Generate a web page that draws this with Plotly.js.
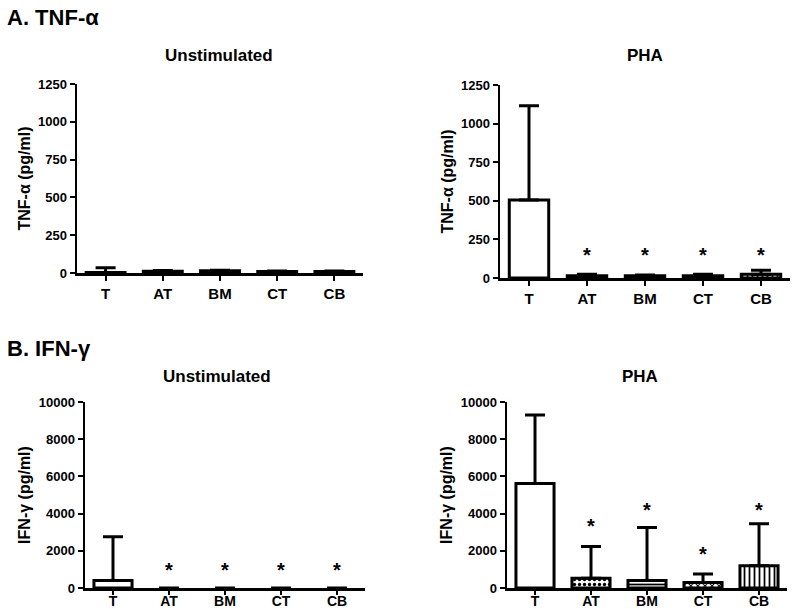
<!DOCTYPE html>
<html>
<head>
<meta charset="utf-8">
<script src="https://cdn.plot.ly/plotly-3.0.1.min.js"></script>
<style>html,body{margin:0;padding:0;background:#fff}#chart{width:800px;height:609px}</style>
</head>
<body>
<div id="chart"></div>
<script>
// ---- data ----
const groups = ["T", "AT", "BM", "CT", "CB"];

const tnfUnstimMean = [4, 12, 15, 10, 10];
const tnfUnstimErr  = [30, 4, 3, 4, 4];

const tnfPhaMean = [505, 15, 15, 15, 25];
const tnfPhaErr  = [610, 10, 5, 10, 25];
const tnfPhaStarY = [null, 135, 135, 135, 135];

const ifnUnstimMean = [400, 0, 0, 0, 0];
const ifnUnstimErr  = [2350, NaN, NaN, NaN, NaN];
const ifnUnstimStarY = [null, 850, 850, 850, 850];

const ifnPhaMean = [5620, 530, 400, 290, 1200];
const ifnPhaErr  = [3680, 1700, 2850, 460, 2250];
const ifnPhaStarY = [null, 3220, 4070, 1720, 4070];

const tnfTicks = [0, 250, 500, 750, 1000, 1250];
const ifnTicks = [0, 2000, 4000, 6000, 8000, 10000];

const patternShapes = ["", ".", "-", "x", "|"];

// ---- styling ----
const FONT = "Liberation Sans, Arial, Helvetica, sans-serif";

function barTrace(mean, err, xa, ya) {
  return {
    type: "bar", x: groups, y: mean, xaxis: xa, yaxis: ya,
    width: 0.68,
    marker: {
      color: "white",
      line: {color: "black", width: mean.map(v => (v > 0 ? 3 : 0))},
      pattern: {shape: patternShapes, fgcolor: "black", bgcolor: "white", size: 5, solidity: 0.35}
    },
    error_y: {type: "data", array: err, arrayminus: groups.map(() => 0), symmetric: false,
              color: "black", thickness: 3, width: 10},
    showlegend: false, hoverinfo: "skip"
  };
}
function starTrace(ys, xa, ya) {
  return {
    type: "scatter", mode: "text", x: groups, y: ys, text: ys.map(v => v === null ? "" : "*"),
    xaxis: xa, yaxis: ya, cliponaxis: false,
    textfont: {family: FONT, size: 20, color: "black", weight: "bold"},
    showlegend: false, hoverinfo: "skip"
  };
}

const data = [
  barTrace(tnfUnstimMean, tnfUnstimErr, "x", "y"),
  barTrace(tnfPhaMean, tnfPhaErr, "x2", "y2"),
  starTrace(tnfPhaStarY, "x2", "y2"),
  barTrace(ifnUnstimMean, ifnUnstimErr, "x3", "y3"),
  starTrace(ifnUnstimStarY, "x3", "y3"),
  barTrace(ifnPhaMean, ifnPhaErr, "x4", "y4"),
  starTrace(ifnPhaStarY, "x4", "y4")
];

function px(v) { return v / 800; }
function py(v) { return 1 - v / 609; }

function xAxis(d0, d1, anchor, lift, fs, tl) {
  return {
    domain: [px(d0), px(d1)], anchor: anchor, type: "category",
    range: [-0.5, 4.5], showline: true, linecolor: "black", linewidth: 2.5,
    ticks: "outside", ticklen: tl, tickwidth: 2, tickcolor: "black",
    ticklabelstandoff: lift,
    showgrid: false, zeroline: false, fixedrange: true,
    tickfont: {family: FONT, size: fs, color: "black", weight: "bold"}
  };
}
function yAxis(d0, d1, anchor, ticks, title) {
  return {
    domain: [py(d1), py(d0)], anchor: anchor,
    range: [0, ticks[ticks.length - 1]], tickmode: "array", tickvals: ticks,
    ticktext: ticks.map(String),
    showline: true, linecolor: "black", linewidth: 2.5,
    ticks: "outside", ticklen: 5, tickwidth: 2, tickcolor: "black",
    showgrid: false, zeroline: false, fixedrange: true,
    tickfont: {family: FONT, size: 13, color: "black", weight: "bold"},
    title: {text: title, font: {family: FONT, size: 16, color: "black", weight: "bold"}, standoff: 4}
  };
}

function ann(text, x, y, size, anchor) {
  return {text: text, xref: "paper", yref: "paper", x: px(x), y: py(y),
          xanchor: anchor || "center", yanchor: "middle", showarrow: false,
          font: {family: FONT, size: size, color: "black", weight: "bold"}};
}

const layout = {
  width: 800, height: 609,
  margin: {l: 0, r: 0, t: 0, b: 0},
  paper_bgcolor: "white", plot_bgcolor: "white",
  font: {family: FONT, color: "black", weight: "bold"},
  xaxis: xAxis(77, 363, "y", 0, 15, 5),
  yaxis: yAxis(84, 273, "x", tnfTicks, "TNF-α (pg/ml)"),
  xaxis2: xAxis(500, 790, "y2", 0, 15, 5),
  yaxis2: yAxis(85, 278, "x2", tnfTicks, "TNF-α (pg/ml)"),
  xaxis3: xAxis(85, 365, "y3", -5, 14, 4),
  yaxis3: yAxis(402, 588, "x3", ifnTicks, "IFN-γ (pg/ml)"),
  xaxis4: xAxis(507, 787, "y4", -5, 14, 4),
  yaxis4: yAxis(402, 588, "x4", ifnTicks, "IFN-γ (pg/ml)"),
  annotations: [
    ann("A. TNF-α", 5, 18, 22, "left"),
    ann("B. IFN-γ", 5, 348, 22, "left"),
    ann("Unstimulated", 219, 55, 17),
    ann("PHA", 645, 55, 17),
    ann("Unstimulated", 217, 376, 17),
    ann("PHA", 640, 376, 17)
  ]
};

Plotly.newPlot("chart", data, layout, {displayModeBar: false, staticPlot: true});
</script>
</body>
</html>
